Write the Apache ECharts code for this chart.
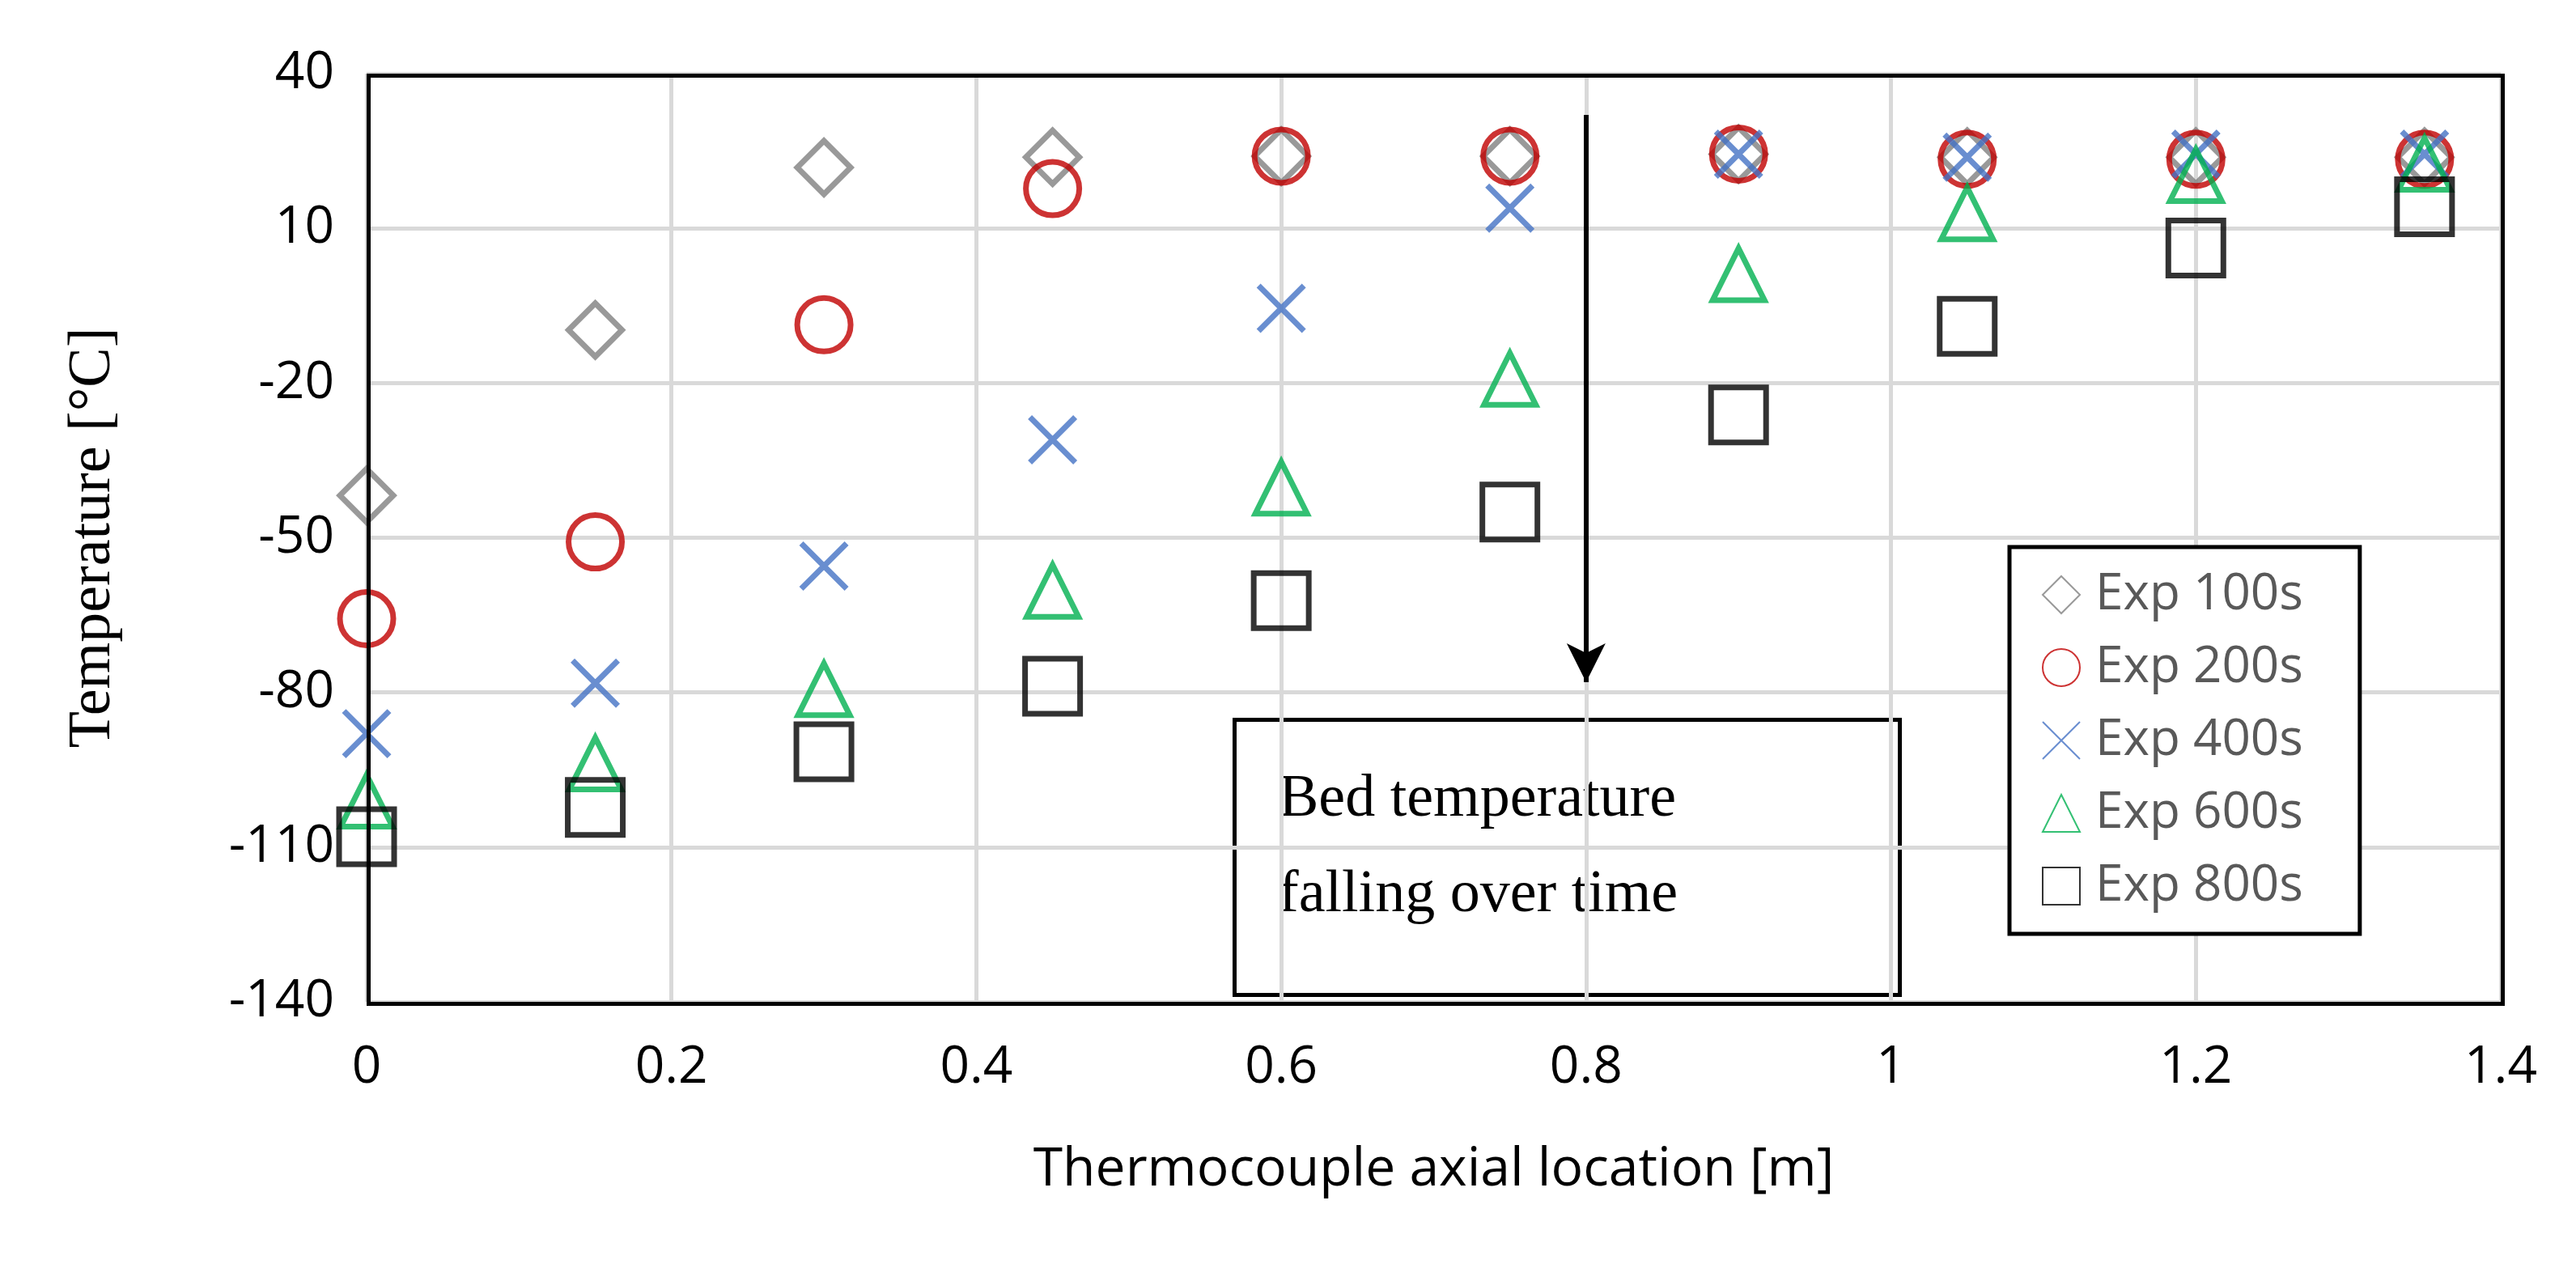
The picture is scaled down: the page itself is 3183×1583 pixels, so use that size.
<!DOCTYPE html>
<html><head><meta charset="utf-8">
<script src="https://cdn.jsdelivr.net/npm/echarts@6/dist/echarts.min.js"></script>
<style>html,body{margin:0;padding:0;background:#fff}#c{width:3183px;height:1583px}</style>
</head><body><div id="c"></div>
<script>
const xs = [0,0.15,0.3,0.45,0.6,0.75,0.9,1.05,1.2,1.35];
const exp100 = [-41.8,-9.7,21.8,23.8,24,24,24.4,23.8,23.8,23.8];
const exp200 = [-65.7,-50.8,-8.7,17.7,24,24,24.4,23.4,23.4,23.4];
const exp400 = [-88,-78.2,-55.5,-31,-5.5,13.9,24.4,23.8,24.4,24.4];
const exp600 = [-101,-93.8,-79.4,-60.3,-40.3,-19.2,1.1,12.9,20.3,22.5];
const exp800 = [-108,-102.3,-91.5,-78.8,-62.2,-45,-26.2,-9,6.2,14.2];
const names = ['Exp 100s','Exp 200s','Exp 400s','Exp 600s','Exp 800s'];
const chart = echarts.init(document.getElementById('c'));
const pair = a => xs.map((x,i)=>[x,a[i]]);
function ser(name, data, symbol, size, color){
  return {name, type:'scatter', data:pair(data), symbol, symbolSize:size,
    itemStyle:{color:'rgba(0,0,0,0)', borderColor:color, borderWidth:7}};
}
const series = [
  ser(names[0], exp100, 'diamond', 66, '#808080'),
  ser(names[1], exp200, 'circle', 66, '#c00000'),
  ser(names[2], exp400, 'path://M0,0L10,10M10,0L0,10', 56, '#4472c4'),
  ser(names[3], exp600, 'triangle', 64, '#00b050'),
  ser(names[4], exp800, 'rect', 68, '#000000')
];
series[0].markLine = {silent:true, symbol:['none','arrow'], symbolSize:[36,48],
  lineStyle:{color:'#000',width:6,type:'solid'}, label:{show:false},
  data:[[{coord:[0.8,32]},{coord:[0.8,-78]}]]};
chart.setOption({
  animation:false,
  grid:{left:453,right:93,top:91,bottom:345},
  xAxis:{type:'value',min:0,max:1.4,interval:0.2,
    axisLine:{show:false},axisTick:{show:false},
    splitLine:{lineStyle:{color:'#d9d9d9',width:5}},
    axisLabel:{fontFamily:'Open Sans',fontSize:64,color:'#000',margin:50},
    name:'Thermocouple axial location [m]',nameLocation:'middle',nameGap:175,
    nameTextStyle:{fontFamily:'Open Sans',fontSize:66,color:'#000'}},
  yAxis:{type:'value',min:-140,max:40,interval:30,
    axisLine:{show:false},axisTick:{show:false},
    splitLine:{lineStyle:{color:'#d9d9d9',width:5}},
    axisLabel:{fontFamily:'Open Sans',fontSize:64,color:'#000',margin:40},
    name:'Temperature [°C]',nameLocation:'middle',nameGap:300,
    nameTextStyle:{fontFamily:'Liberation Serif',fontSize:74,color:'#000'}},
  legend:{data:names,orient:'vertical',left:2483,top:676,width:566,
    backgroundColor:'#fff',
    borderColor:'#000',borderWidth:5,padding:[28,70,28,40],itemGap:28,
    itemWidth:46,itemHeight:46,
    textStyle:{fontFamily:'Open Sans',fontSize:62,color:'#595959',padding:[0,0,0,14]}},
  graphic:[
    {type:'rect',left:453,top:91,z:100,shape:{width:2637,height:1147},
     style:{fill:'none',stroke:'#000',lineWidth:5}},
    {type:'rect',left:1523,top:887,shape:{width:822,height:340},
     style:{fill:'#fff',stroke:'#000',lineWidth:5}},
    {type:'text',left:1580,top:930,style:{text:'Bed temperature\nfalling over time',
      font:'74px "Liberation Serif"',fill:'#000',lineHeight:118}}
  ],
  series
});
</script></body></html>
